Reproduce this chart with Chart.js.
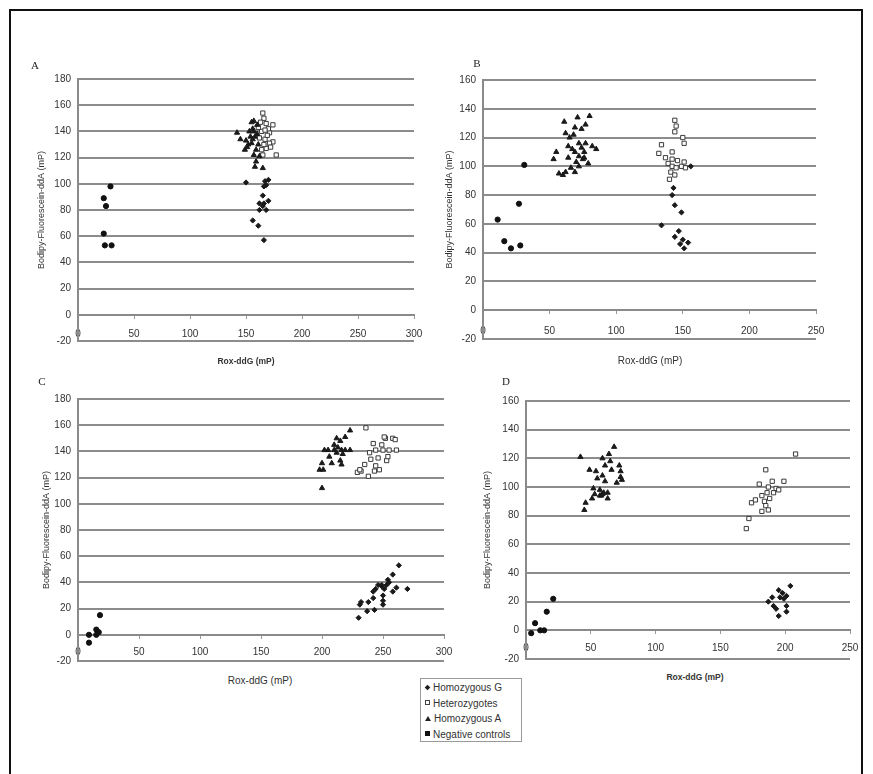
<!DOCTYPE html>
<html>
<head>
<meta charset="utf-8">
<script src="https://cdn.jsdelivr.net/npm/chart.js@4.4.1/dist/chart.umd.min.js"></script>
<style>
  html, body { margin: 0; padding: 0; background: #fff; }
  #fig { position: relative; width: 873px; height: 774px; overflow: hidden; font-family: "Liberation Sans", Arial, sans-serif; }
  #frame { position: absolute; left: 9px; top: 9px; width: 854px; height: 780px; border: 2px solid #111; box-sizing: border-box; }
  canvas { position: absolute; }
  .letter { position: absolute; font-family: "Liberation Serif", "Times New Roman", serif; font-size: 11px; color: #222; transform: translate(-50%, -50%); }
  .xtitle { position: absolute; font-size: 10px; color: #333; transform: translate(-50%, -50%); white-space: nowrap; }
  .xtitle.b { font-weight: bold; font-size: 8.5px; }
  #legend { position: absolute; left: 420px; top: 678px; width: 102px; height: 64px; border: 1px solid #999; box-sizing: border-box; font-size: 10px; color: #333; padding-top: 1px; }
  #legend div { height: 15.5px; line-height: 15.5px; white-space: nowrap; padding-left: 4px; }
  .mk { display: inline-block; width: 5px; height: 5px; margin-right: 3px; vertical-align: middle; position: relative; top: -1px; }
  .mk.dia { background: #222; transform: rotate(45deg) scale(0.8); }
  .mk.sq { border: 1px solid #444; width: 3px; height: 3px; background: #fff; }
  .mk.tri { width: 0; height: 0; border-left: 3px solid transparent; border-right: 3px solid transparent; border-bottom: 5px solid #222; }
  .mk.dot { background: #111; }
</style>
</head>
<body>
<div id="fig">
  <div id="frame"></div>
  <canvas id="cA"></canvas>
  <canvas id="cB"></canvas>
  <canvas id="cC"></canvas>
  <canvas id="cD"></canvas>
  <div class="letter" style="left:35px;top:65px">A</div>
  <div class="letter" style="left:477px;top:63px">B</div>
  <div class="letter" style="left:42px;top:381px">C</div>
  <div class="letter" style="left:506px;top:381px">D</div>
  <div class="xtitle b" style="left:246px;top:361px">Rox-ddG (mP)</div>
  <div class="xtitle" style="left:650px;top:360px">Rox-ddG (mP)</div>
  <div class="xtitle" style="left:260px;top:680px">Rox-ddG (mP)</div>
  <div class="xtitle b" style="left:695px;top:677px">Rox-ddG (mP)</div>
  <div id="legend">
    <div><span class="mk dia"></span>Homozygous G</div>
    <div><span class="mk sq"></span>Heterozygotes</div>
    <div><span class="mk tri"></span>Homozygous A</div>
    <div><span class="mk dot"></span>Negative controls</div>
  </div>
</div>
<script>
// ---- Panel A: [Rox-ddG, Bodipy-Fluorescein-ddA] in mP ----
const aHomG = [[150,101],[167,102],[170,103],[168,99],[166,98],[165,91],[166,85],[162,85],[170,87],[168,80],[162,80],[165,83],[156,72],[161,68],[166,57]];
const aHet  = [[165,154],[168,146],[174,145],[171,139],[174,132],[177,122],[165,122],[164,140],[162,135],[167,134],[168,127],[164,126],[171,131],[166,150],[170,142],[163,147],[169,137],[166,130],[172,128],[161,143],[167,141]];
const aHomA = [[142,139],[145,134],[149,126],[152,130],[155,147],[156,142],[158,136],[159,126],[161,130],[159,117],[158,113],[165,112],[154,136],[156,134],[157,140],[160,145],[151,128],[157,122],[162,121],[155,131],[153,140],[157,148],[160,138],[150,133]];
const aNeg  = [[23,89],[25,83],[29,98],[23,62],[24,53],[30,53]];

// ---- Panel B ----
const bHomG = [[134,59],[143,85],[142,80],[144,73],[149,68],[147,55],[144,51],[150,49],[148,46],[154,47],[151,43],[156,100]];
const bHet  = [[144,132],[145,128],[144,124],[150,120],[151,116],[134,115],[132,109],[142,110],[137,106],[142,105],[146,104],[139,102],[142,100],[149,100],[152,99],[145,99],[141,96],[140,91],[144,94],[151,103]];
const bHomA = [[53,105],[55,110],[57,95],[60,94],[61,131],[62,123],[62,96],[64,114],[64,106],[65,120],[66,99],[67,112],[68,122],[69,127],[69,96],[70,103],[71,134],[72,116],[72,107],[74,126],[74,113],[75,105],[76,110],[77,116],[77,129],[79,102],[80,135],[82,114],[85,112],[72,100],[76,106],[69,110]];
const bNeg  = [[11,63],[16,48],[21,43],[27,74],[28,45],[31,101]];

// ---- Panel C ----
const cHomG = [[230,13],[231,23],[232,25],[237,18],[238,25],[242,28],[243,19],[242,33],[244,35],[249,37],[250,30],[250,23],[251,35],[253,38],[255,40],[254,42],[258,46],[258,33],[261,36],[263,53],[270,35],[249,38],[246,38],[250,26]];
const cHet  = [[229,124],[232,125],[231,126],[236,158],[235,130],[238,121],[239,139],[242,146],[240,134],[244,141],[244,129],[246,135],[249,145],[250,141],[247,126],[252,150],[253,133],[255,141],[258,150],[254,136],[261,141],[243,125],[251,151],[260,149]];
const cHomA = [[200,112],[198,126],[201,126],[200,131],[202,141],[205,141],[206,136],[208,131],[210,145],[210,141],[212,139],[213,143],[215,148],[216,141],[217,138],[216,130],[219,141],[215,133],[223,156],[219,151],[223,141],[212,150]];
const cNeg  = [[9,0],[9,-6],[15,4],[15,0],[17,2],[18,15]];

// ---- Panel D ----
const dHomG = [[187,20],[190,23],[191,17],[193,15],[195,10],[195,28],[196,23],[199,22],[201,24],[201,17],[201,13],[204,31],[198,26]];
const dHet  = [[170,71],[172,78],[174,89],[177,91],[180,102],[182,94],[184,90],[185,112],[185,87],[186,96],[187,84],[188,92],[190,104],[191,96],[193,99],[195,98],[199,104],[208,123],[182,83],[187,100]];
const dHomA = [[42,121],[45,84],[46,89],[49,112],[51,92],[52,99],[53,95],[54,111],[55,106],[57,98],[58,94],[59,120],[59,108],[60,96],[61,115],[61,104],[63,92],[64,123],[65,118],[66,112],[68,128],[70,103],[72,115],[73,111],[74,105],[73,107],[57,94],[59,95],[63,96]];
const dNeg  = [[4,-2],[7,5],[11,0],[14,0],[16,13],[21,22]];

const seriesNames = ['Homozygous G', 'Heterozygotes', 'Homozygous A', 'Negative controls'];
const xTicksStep = 50;
const yTicksStep = 20;

// marker style for each genotype group
const markerStyles = [
  { pointStyle: 'rectRot',  radius: 2.6, backgroundColor: '#1a1a1a', borderColor: '#1a1a1a', borderWidth: 1 },
  { pointStyle: 'rect',     radius: 3,   backgroundColor: '#ffffff', borderColor: '#3a3a3a', borderWidth: 1 },
  { pointStyle: 'triangle', radius: 3,   backgroundColor: '#1a1a1a', borderColor: '#1a1a1a', borderWidth: 1 },
  { pointStyle: 'circle',   radius: 2.6, backgroundColor: '#111111', borderColor: '#111111', borderWidth: 1 }
];

const toPts = arr => arr.map(p => ({ x: p[0], y: p[1] }));

function drawPanel(id, area, yAxisW, xMax, yMax, labelPad, groups) {
  const padT = 12, padR = 28, padB = 10;
  const left = area.l - yAxisW, top = area.t - padT;
  const w = Math.round(area.r + padR - left), h = Math.round(area.b + padB - top);
  const cv = document.getElementById(id);
  cv.style.left = left + 'px';
  cv.style.top = top + 'px';
  cv.width = w; cv.height = h;
  cv.style.width = w + 'px'; cv.style.height = h + 'px';

  const datasets = groups.map((g, i) => ({
    label: seriesNames[i],
    data: toPts(g),
    pointRadius: markerStyles[i].radius,
    pointStyle: markerStyles[i].pointStyle,
    pointBackgroundColor: markerStyles[i].backgroundColor,
    pointBorderColor: markerStyles[i].borderColor,
    pointBorderWidth: markerStyles[i].borderWidth,
    showLine: false
  }));
  // filled marks first, open squares last
  const order = [3, 2, 0, 1];
  const ordered = order.map(i => datasets[i]);

  new Chart(cv, {
    type: 'scatter',
    data: { datasets: ordered },
    options: {
      responsive: false,
      animation: false,
      devicePixelRatio: 1,
      layout: { padding: { left: 0, top: padT, right: padR, bottom: padB } },
      plugins: { legend: { display: false }, tooltip: { enabled: false } },
      scales: {
        x: {
          type: 'linear', min: 0, max: xMax,
          position: { y: 0 },
          ticks: { stepSize: xTicksStep, color: '#333', font: { size: 10, family: '"Liberation Sans", Arial, sans-serif' }, padding: labelPad, maxRotation: 0 },
          grid: { display: true, drawOnChartArea: false, drawTicks: true, tickLength: 3, color: '#999', lineWidth: 1 },
          border: { display: true, color: '#8a8a8a', width: 2 }
        },
        y: {
          type: 'linear', min: -20, max: yMax,
          ticks: { stepSize: yTicksStep, color: '#333', font: { size: 10, family: '"Liberation Sans", Arial, sans-serif' }, padding: 7 },
          grid: { color: '#8c8c8c', lineWidth: 2, drawTicks: false },
          border: { display: true, color: '#8a8a8a', width: 2 },
          title: { display: true, text: 'Bodipy-Fluorescein-ddA (mP)', color: '#333', font: { size: 9, family: '"Liberation Sans", Arial, sans-serif' }, padding: { top: 4, bottom: 0 } },
          afterFit: s => { s.width = yAxisW; }
        }
      }
    }
  });
}

drawPanel('cA', { l: 78,  t: 78,  r: 414, b: 343.5 }, 46, 300, 180, 10, [aHomG, aHet, aHomA, aNeg]);
drawPanel('cB', { l: 483, t: 79,  r: 816, b: 342   }, 43, 250, 160, 12, [bHomG, bHet, bHomA, bNeg]);
drawPanel('cC', { l: 78,  t: 398, r: 444, b: 664   }, 41, 300, 180, 8,  [cHomG, cHet, cHomA, cNeg]);
drawPanel('cD', { l: 526, t: 400, r: 850, b: 662   }, 48, 250, 160, 9,  [dHomG, dHet, dHomA, dNeg]);
</script>
</body>
</html>
